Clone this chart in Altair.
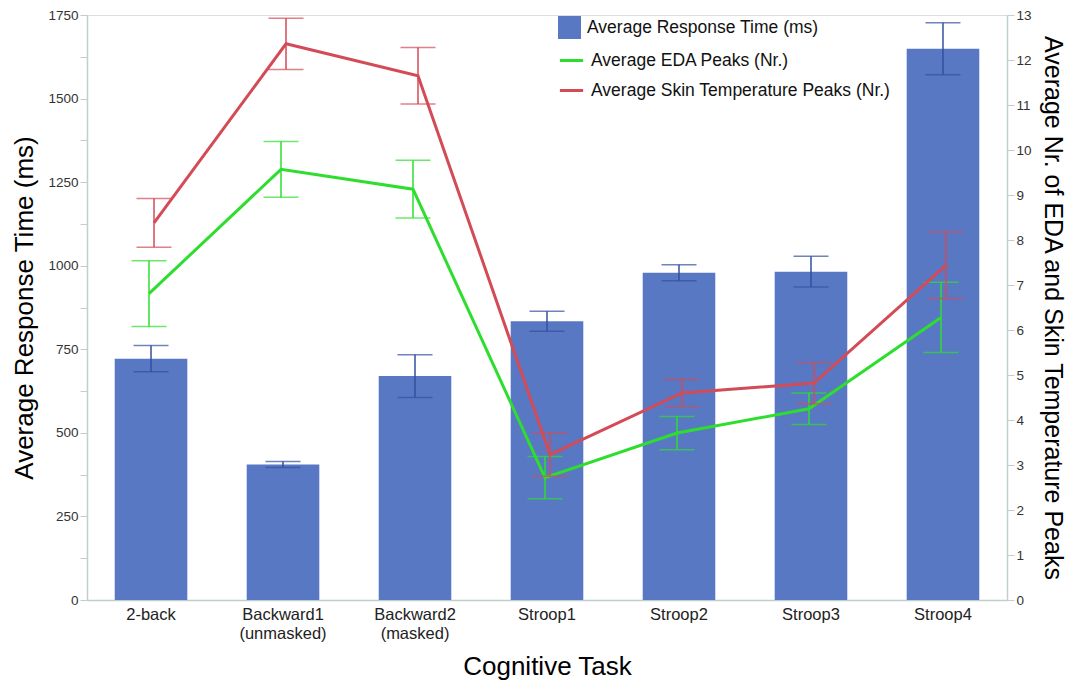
import altair as alt
import pandas as pd

tasks = ["2-back", "Backward1 (unmasked)", "Backward2 (masked)", "Stroop1", "Stroop2", "Stroop3", "Stroop4"]
rt = [722, 405, 670, 834, 979, 982, 1649]
rt_err = [39, 9, 64, 30, 24, 46, 78]
eda = [6.81, 9.57, 9.13, 2.72, 3.71, 4.25, 6.28]
eda_err = [0.73, 0.62, 0.64, 0.47, 0.37, 0.35, 0.78]
skin = [8.38, 12.36, 11.65, 3.23, 4.60, 4.82, 7.44]
skin_err = [0.54, 0.57, 0.63, 0.48, 0.30, 0.46, 0.74]

left_ticks = [i * 125 for i in range(15)]
right_ticks = [i * 0.5 for i in range(27)]

bar_name = "Average Response Time (ms)"
eda_name = "Average EDA Peaks (Nr.)"
skin_name = "Average Skin Temperature Peaks (Nr.)"

FONT = "Liberation Sans"
AXIS_COL = "#c2cdcf"

df_bar = pd.DataFrame({
    "task": tasks, "rt": rt,
    "lo": [v - e for v, e in zip(rt, rt_err)],
    "hi": [v + e for v, e in zip(rt, rt_err)],
    "series": bar_name,
})
df_eda = pd.DataFrame({
    "task": tasks, "val": eda,
    "lo": [v - e for v, e in zip(eda, eda_err)],
    "hi": [v + e for v, e in zip(eda, eda_err)],
    "series": eda_name,
})
df_skin = pd.DataFrame({
    "task": tasks, "val": skin,
    "lo": [v - e for v, e in zip(skin, skin_err)],
    "hi": [v + e for v, e in zip(skin, skin_err)],
    "series": skin_name,
})

x_enc = alt.X("task:N", sort=tasks,
              scale=alt.Scale(paddingInner=0.45, paddingOuter=0.21),
              axis=alt.Axis(title="Cognitive Task", labelAngle=0,
                            labelExpr="split(datum.label, ' ')",
                            labelFontSize=16.5, labelLineHeight=19, labelColor="#222",
                            labelPadding=6, ticks=False, domainColor=AXIS_COL,
                            domainWidth=1.5, titleFontSize=26, titleFontWeight="normal",
                            titlePadding=12, titleColor="#000", labelFont=FONT, titleFont=FONT))

y_left_scale = alt.Scale(domain=[0, 1750], nice=False)
y_left_axis = alt.Axis(title="Average Response Time (ms)", values=left_ticks,
                       labelExpr="datum.value % 250 == 0 ? datum.label : ''",
                       grid=False, domainColor=AXIS_COL, domainWidth=1.5,
                       tickColor=AXIS_COL, tickSize=7, labelFontSize=13.5, labelColor="#333",
                       labelPadding=2,
                       titleFontSize=26, titleFontWeight="normal", titleColor="#000",
                       titlePadding=10, labelFont=FONT, titleFont=FONT, format="d")

fill_scale = alt.Scale(domain=[bar_name], range=["#5878c4"])
fill_legend = alt.Legend(title=None, orient="none", legendX=471, legendY=1,
                         symbolType="square", symbolSize=529, labelFontSize=17.5,
                         labelColor="#111", labelFont=FONT, symbolStrokeWidth=0,
                         labelOffset=6, labelLimit=500)

bars = alt.Chart(df_bar).mark_bar().encode(
    x=x_enc,
    y=alt.Y("rt:Q", scale=y_left_scale, axis=y_left_axis),
    fill=alt.Fill("series:N", scale=fill_scale, legend=fill_legend),
)
bar_rule = alt.Chart(df_bar).mark_rule(color="#3350a0", strokeWidth=1.5).encode(
    x=alt.X("task:N", sort=tasks), y="lo:Q", y2="hi:Q")
bar_cap_lo = alt.Chart(df_bar).mark_tick(color="#3350a0", size=35, thickness=1.5).encode(
    x=alt.X("task:N", sort=tasks), y="lo:Q")
bar_cap_hi = alt.Chart(df_bar).mark_tick(color="#3350a0", size=35, thickness=1.5).encode(
    x=alt.X("task:N", sort=tasks), y="hi:Q")

left = alt.layer(bars, bar_rule, bar_cap_lo, bar_cap_hi)

y_right_scale = alt.Scale(domain=[0, 13], nice=False)
y_right_axis = alt.Axis(title="Average Nr. of EDA and Skin Temperature Peaks", orient="right",
                        values=right_ticks,
                        labelExpr="datum.value % 1 == 0 ? datum.label : ''",
                        grid=False, domainColor=AXIS_COL, domainWidth=1.5,
                        tickColor=AXIS_COL, tickSize=7, labelFontSize=13.5, labelColor="#333",
                        labelPadding=2,
                        titleFontSize=25, titleFontWeight="normal", titleColor="#000",
                        titlePadding=8, labelFont=FONT, titleFont=FONT, format="d")

stroke_scale = alt.Scale(domain=[eda_name, skin_name], range=["#2ede2e", "#d34b57"])
stroke_legend = alt.Legend(title=None, orient="none", legendX=471, legendY=32,
                           symbolType="stroke", symbolSize=540, symbolStrokeWidth=3,
                           labelFontSize=17.5, labelColor="#111", labelFont=FONT,
                           rowPadding=8, labelOffset=6, labelLimit=500)


def series_layers(df, offset):
    line = alt.Chart(df).mark_line(strokeWidth=3, xOffset=offset).encode(
        x=alt.X("task:N", sort=tasks),
        y=alt.Y("val:Q", scale=y_right_scale, axis=y_right_axis),
        stroke=alt.Stroke("series:N", scale=stroke_scale, legend=stroke_legend),
    )
    rule = alt.Chart(df).mark_rule(strokeWidth=1.5, xOffset=offset).encode(
        x=alt.X("task:N", sort=tasks), y="lo:Q", y2="hi:Q",
        stroke=alt.Stroke("series:N", scale=stroke_scale, legend=stroke_legend))
    cap_lo = alt.Chart(df).mark_tick(size=35, thickness=1.5, xOffset=offset).encode(
        x=alt.X("task:N", sort=tasks), y="lo:Q",
        color=alt.Color("series:N", scale=stroke_scale, legend=None))
    cap_hi = alt.Chart(df).mark_tick(size=35, thickness=1.5, xOffset=offset).encode(
        x=alt.X("task:N", sort=tasks), y="hi:Q",
        color=alt.Color("series:N", scale=stroke_scale, legend=None))
    return [rule, cap_lo, cap_hi, line]


right = alt.layer(*series_layers(df_eda, -2), *series_layers(df_skin, 3))

chart = alt.layer(left, right).resolve_scale(y="independent").properties(
    width=920, height=585, padding={"left": 3, "top": 0, "right": 3, "bottom": 0}
).configure_view(stroke=None).configure(font=FONT)

chart.save("out.html", embed_options={"renderer": "svg", "actions": False})
